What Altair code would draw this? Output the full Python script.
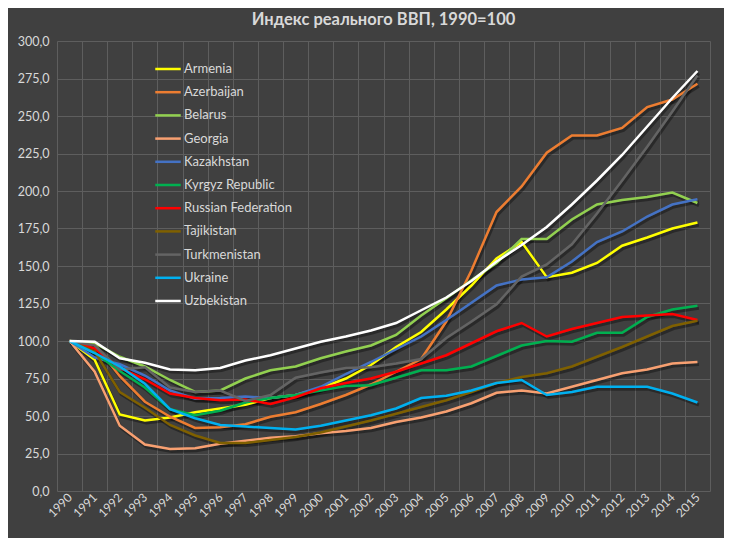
import altair as alt
import pandas as pd

years = [str(y) for y in range(1990, 2016)]
countries = ["Armenia", "Azerbaijan", "Belarus", "Georgia", "Kazakhstan",
             "Kyrgyz Republic", "Russian Federation", "Tajikistan",
             "Turkmenistan", "Ukraine", "Uzbekistan"]
colors = ["#FFFF00", "#ED7D31", "#92D050", "#F8A071", "#4472C4",
          "#00B050", "#FF0000", "#7F6000", "#646464", "#00B0F0", "#FFFFFF"]

armenia = [100, 87.5, 51, 47, 49, 52.5, 55, 57.5, 62, 64, 68.5, 75, 84, 96, 106, 121, 137, 155, 166, 142.5, 145.5, 152, 163.5, 169, 175, 179]
azerbaijan = [100, 97.5, 76.5, 59.5, 49.5, 42, 42.5, 44.5, 49.5, 52.5, 58, 64, 71, 79.5, 88, 113, 147, 186, 203, 225.5, 237, 237, 242, 256, 261, 271.5]
belarus = [100, 98.5, 89.5, 83, 74, 66, 67, 75, 80.5, 83, 88.5, 93, 97, 104, 117, 128.5, 140.5, 152, 168, 168, 181, 191, 194, 196, 199, 192]
georgia = [100, 79.5, 43.5, 31, 28, 28.5, 31.5, 33.5, 35.5, 36.5, 38.5, 40, 42, 46, 49, 53, 58.5, 65.5, 67, 65, 69.5, 74, 78.5, 81, 85, 86]
kazakhstan = [100, 89, 84.5, 77, 67, 61.5, 62, 63, 62, 64, 69.5, 78, 86, 94.5, 103, 114, 125.5, 137, 141, 142.5, 153, 166, 173, 183, 191, 194.5]
kyrgyz = [100, 92, 80, 69, 54.5, 50.5, 53.5, 59, 62, 64, 67, 70, 70.5, 75.5, 80.5, 80.5, 83, 90, 97, 100, 99.5, 105.5, 105.5, 116, 121, 123.5]
russia = [100, 95, 82, 74.5, 65, 62, 60.5, 61, 58, 62.5, 68.5, 72, 75, 79.5, 85, 90.5, 98.5, 106.5, 112, 103, 108, 112, 116, 117, 118, 114]
tajikistan = [100, 93, 66, 55.5, 44, 37, 32, 32, 34, 36, 39, 43, 47, 51.5, 56, 60.5, 66, 72, 76, 78.5, 83, 89.5, 96, 103, 110, 113.5]
turkmenistan = [100, 97, 81, 82.5, 69, 66, 67, 60, 64, 75.5, 79, 82, 82.5, 85, 88, 102, 113, 124.5, 143, 151, 164.5, 185, 207, 229.5, 253, 277]
ukraine = [100, 92, 83, 71.5, 54.5, 48.5, 44, 43, 42, 41, 43.5, 47, 50.5, 55, 62, 63.5, 67, 72, 74, 64, 66, 69.5, 69.5, 69.5, 65, 59]
uzbekistan = [100, 99.5, 88.5, 85.5, 81, 80.5, 82, 87, 90.5, 95, 99.5, 103, 107, 112, 120.5, 129, 140, 153, 164, 176, 191, 207, 224, 243, 262, 280]

series = [armenia, azerbaijan, belarus, georgia, kazakhstan, kyrgyz, russia,
          tajikistan, turkmenistan, ukraine, uzbekistan]

rows = []
for name, vals in zip(countries, series):
    for y, v in zip(years, vals):
        rows.append({"country": name, "year": y, "value": v})
df = pd.DataFrame(rows)

FONT = "Lato"
TXT = "#D9D9D9"
GRID = "#5E5E5E"

x_enc = alt.X("year:O", title=None,
              scale=alt.Scale(type="band", paddingInner=0, paddingOuter=0),
              axis=alt.Axis(labelAngle=-45, labelAlign="right", labelBaseline="middle",
                            labelColor=TXT, labelFont=FONT, labelFontSize=12,
                            labelPadding=4, tickBand="extent", grid=True,
                            gridColor=GRID, gridWidth=1, domain=False, ticks=False))
y_enc = alt.Y("value:Q", title=None,
              scale=alt.Scale(domain=[0, 300], nice=False),
              axis=alt.Axis(values=list(range(0, 301, 25)),
                            labelExpr="replace(format(datum.value, '.1f'), '.', ',')",
                            labelColor=TXT, labelFont=FONT, labelFontSize=12.5,
                            labelPadding=8, grid=True, gridColor=GRID, gridWidth=1,
                            domain=False, ticks=False))

shadow = alt.Chart(df).mark_line(strokeWidth=3, color="#000000", opacity=0.35,
                                 xOffset=1.5, yOffset=2.5).encode(
    x=x_enc, y=y_enc, detail="country:N")

lines = alt.Chart(df).mark_line(strokeWidth=2.5).encode(
    x=x_enc, y=y_enc,
    color=alt.Color("country:N",
                    scale=alt.Scale(domain=countries, range=colors),
                    legend=alt.Legend(title=None, orient="none", legendX=97, legendY=14,
                                      symbolType="stroke", symbolSize=650,
                                      symbolStrokeWidth=2.5, labelColor=TXT,
                                      labelFont=FONT, labelFontSize=13,
                                      labelOffset=2, rowPadding=2.2)))

chart = alt.layer(shadow, lines).properties(
    width=653, height=450,
    title=alt.TitleParams("Индекс реального ВВП, 1990=100", color=TXT, font=FONT,
                          fontSize=16.5, fontWeight="bold", anchor="middle", offset=7),
    background="#404040",
    autosize=alt.AutoSizeParams(type="none"),
    padding={"left": 49, "top": 33, "right": 14, "bottom": 47},
).configure_view(stroke=None)

chart.save("out.html", embed_options={"renderer": "svg", "actions": False})
